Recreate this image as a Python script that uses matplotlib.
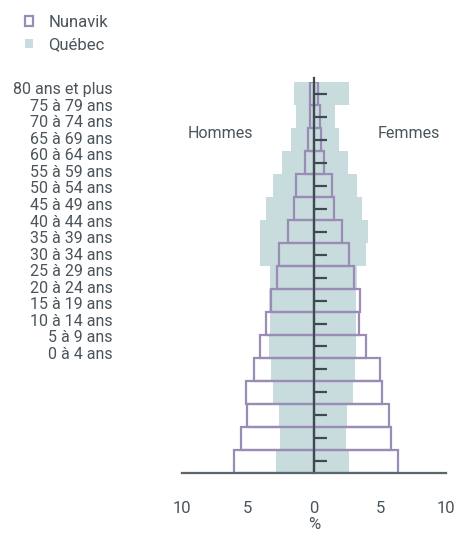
import matplotlib
matplotlib.use('Agg')
import matplotlib.pyplot as plt
import numpy as np

plt.rcParams['font.family'] = ['Roboto', 'DejaVu Sans']

# age groups, youngest first
ages = ['0 à 4 ans', '5 à 9 ans', '10 à 14 ans', '15 à 19 ans', '20 à 24 ans',
        '25 à 29 ans', '30 à 34 ans', '35 à 39 ans', '40 à 44 ans', '45 à 49 ans',
        '50 à 54 ans', '55 à 59 ans', '60 à 64 ans', '65 à 69 ans', '70 à 74 ans',
        '75 à 79 ans', '80 ans et plus']

# % of population
nunavik_h = [6.08, 5.49, 5.04, 5.14, 4.56, 4.08, 3.62, 3.27, 2.82, 2.67,
             1.98, 1.53, 1.38, 0.70, 0.47, 0.32, 0.27]
nunavik_f = [6.33, 5.82, 5.72, 5.14, 5.04, 3.98, 3.40, 3.47, 3.05, 2.69,
             2.10, 1.50, 1.38, 0.74, 0.57, 0.44, 0.29]
quebec_h = [2.89, 2.54, 2.67, 3.09, 3.22, 3.37, 3.35, 3.40, 3.35, 4.05,
            4.05, 3.60, 3.10, 2.41, 1.70, 1.35, 1.48]
quebec_f = [2.64, 2.41, 2.51, 2.99, 3.12, 3.22, 3.22, 3.20, 3.27, 3.98,
            4.07, 3.65, 3.27, 2.59, 1.94, 1.63, 2.64]

xticks = [-10, -5, 0, 5, 10]

TXT = '#4a545a'
QC = '#c8dcdd'
NU = '#9a8db5'
DARK = '#3e4a50'

y = np.arange(len(ages))

fig = plt.figure(figsize=(4.6, 5.4), dpi=100)
ax = fig.add_axes([0.395, 0.1241, 0.5746, 0.724])

qc = ax.barh(y, -np.array(quebec_h), height=1.0, color=QC, linewidth=0)
ax.barh(y, quebec_f, height=1.0, color=QC, linewidth=0)
nu = ax.barh(y, -np.array(nunavik_h), height=1.0, fill=False, edgecolor=NU, linewidth=1.6)
ax.barh(y, nunavik_f, height=1.0, fill=False, edgecolor=NU, linewidth=1.6)

# centre line and small row ticks
ax.axvline(0, color=DARK, lw=1.6, ymax=1.01, clip_on=False)
ax.hlines(y, 0, 1.0, color=DARK, lw=1.6)

ax.set_xlim(-10, 10)
ax.set_ylim(-0.5, len(ages) - 0.5)
ax.set_xticks(xticks)
ax.set_xticklabels([str(abs(v)) for v in xticks], color=TXT, fontsize=12)
ax.tick_params(axis='x', length=0, pad=20)
ax.set_yticks([])
for s in ['top', 'left', 'right']:
    ax.spines[s].set_visible(False)
ax.spines['bottom'].set_color('#5a666b')
ax.spines['bottom'].set_linewidth(1.6)
ax.set_xlabel('%', color=TXT, fontsize=12, labelpad=1)

ax.text(-7.1, 14.25, 'Hommes', color=TXT, fontsize=11.5, ha='center', va='center')
ax.text(7.2, 14.25, 'Femmes', color=TXT, fontsize=11.5, ha='center', va='center')

# age labels (own axes, tighter spacing than the bars)
lab = fig.add_axes([0.245, 0.331, 0.01, 0.521])
lab.set_ylim(-0.5, len(ages) - 0.5)
lab.set_yticks(y)
lab.set_yticklabels(ages, color=TXT, fontsize=11.5)
lab.tick_params(axis='y', length=0, pad=0)
lab.set_xticks([])
for s in lab.spines.values():
    s.set_visible(False)
lab.patch.set_visible(False)

fig.legend([nu, qc], ['Nunavik', 'Québec'], loc='upper left',
           bbox_to_anchor=(0.022, 1.0), frameon=False, fontsize=12,
           handlelength=0.5, handleheight=0.5, handletextpad=0.9,
           labelspacing=0.45, labelcolor=TXT)

fig.savefig('out.png', dpi=100)
